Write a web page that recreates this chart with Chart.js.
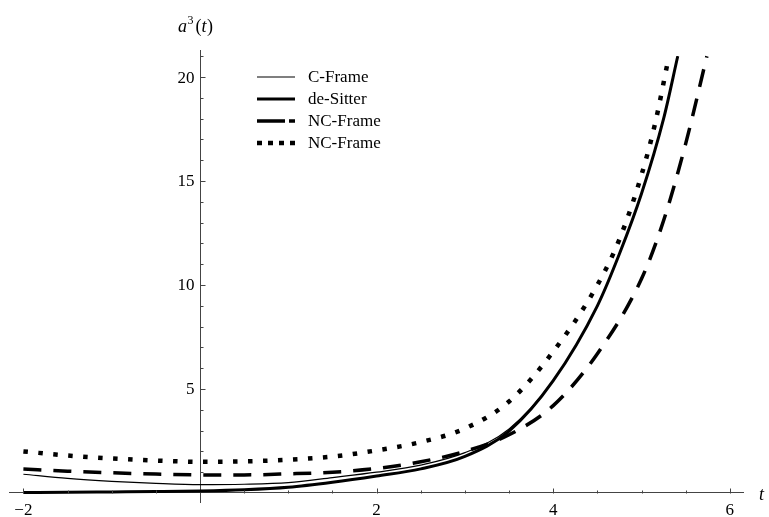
<!DOCTYPE html>
<html>
<head>
<meta charset="utf-8">
<script src="https://cdn.jsdelivr.net/npm/chart.js@4.4.1/dist/chart.umd.min.js"></script>
<style>
  html, body { margin: 0; padding: 0; background: #fff; }
  #wrap { width: 769px; height: 517px; }
</style>
</head>
<body>
<div id="wrap"><canvas id="chart" width="769" height="517"></canvas></div>
<script>
// a^3(t), one t list and one value list per curve
const cFrameT   = [-2, -1.5, -1, -0.5, 0, 0.5, 1, 1.5, 2, 2.5, 3, 3.5, 4, 4.5, 4.75, 5, 5.25, 5.41];
const cFrameA3  = [0.9, 0.7, 0.56, 0.46, 0.4, 0.42, 0.5, 0.74, 1.0, 1.34, 1.94, 3.08, 5.4, 9.0, 11.5, 14.4, 18.0, 21];

const deSitterT  = [-2, -1.5, -1, -0.5, 0, 0.5, 1, 1.5, 2, 2.5, 3, 3.5, 4, 4.5, 4.75, 5, 5.25, 5.41];
const deSitterA3 = [0.02, 0.03, 0.05, 0.07, 0.1, 0.16, 0.28, 0.52, 0.82, 1.16, 1.76, 2.98, 5.4, 9.0, 11.5, 14.4, 18.0, 21];

const ncDashT  = [-2, -1.5, -1, -0.5, 0, 0.5, 1, 1.5, 2, 2.5, 3, 3.5, 4, 4.5, 5, 5.25, 5.5, 5.74];
const ncDashA3 = [1.15, 1.05, 0.97, 0.91, 0.87, 0.87, 0.92, 1.0, 1.18, 1.5, 2.0, 2.8, 4.2, 6.7, 10.3, 13.1, 16.8, 21];

const ncDotT  = [-2, -1.5, -1, -0.5, 0, 0.5, 1, 1.5, 2, 2.5, 3, 3.5, 4, 4.5, 4.75, 5, 5.15, 5.31];
const ncDotA3 = [2.0, 1.8, 1.66, 1.56, 1.5, 1.52, 1.6, 1.75, 2.05, 2.45, 3.1, 4.4, 6.8, 10.0, 12.2, 15.3, 17.7, 21];

const seriesNames = ['C-Frame', 'de-Sitter', 'NC-Frame', 'NC-Frame'];

// labelled ticks
const xTickValues = [-2, 2, 4, 6];
const yTickValues = [5, 10, 15, 20];

const toPoints = (ts, vs) => ts.map((t, i) => ({ x: t, y: vs[i] }));
const SERIF = "'Liberation Serif', 'Times New Roman', serif";

Chart.defaults.font.family = SERIF;
Chart.defaults.font.size = 17;
Chart.defaults.color = '#000';

// minor tick marks drawn inside the axes, Mathematica style
const axisTicks = {
  id: 'axisTicks',
  afterDraw(chart) {
    const { ctx, scales: { x, y } } = chart;
    const x0 = Math.round(x.getPixelForValue(0)) + 0.5;
    const y0 = Math.round(y.getPixelForValue(0)) + 0.5;
    ctx.save();
    ctx.strokeStyle = '#444';
    ctx.lineWidth = 1;
    ctx.beginPath();
    for (let v = -2; v <= 6; v += 0.5) {
      if (v === 0) continue;
      const px = Math.round(x.getPixelForValue(v)) + 0.5;
      const len = xTickValues.includes(v) ? 5 : 3;
      ctx.moveTo(px, y0);
      ctx.lineTo(px, y0 - len);
    }
    for (let v = 1; v <= 21; v++) {
      const py = Math.round(y.getPixelForValue(v)) + 0.5;
      const len = yTickValues.includes(v) ? 5 : 3;
      ctx.moveTo(x0, py);
      ctx.lineTo(x0 + len, py);
    }
    ctx.stroke();

    // axis labels: t and a^3(t)
    ctx.fillStyle = '#000';
    ctx.textBaseline = 'alphabetic';
    ctx.textAlign = 'left';
    ctx.font = 'italic 18px ' + SERIF;
    ctx.fillText('t', 759, y0 + 6);

    let cx = 178;
    const base = 32;
    ctx.font = 'italic 18px ' + SERIF;
    ctx.fillText('a', cx, base);
    cx += ctx.measureText('a').width + 0.5;
    ctx.font = '12px ' + SERIF;
    ctx.fillText('3', cx, base - 8);
    cx += ctx.measureText('3').width + 2;
    ctx.font = '18px ' + SERIF;
    ctx.fillText('(', cx, base);
    cx += ctx.measureText('(').width;
    ctx.font = 'italic 18px ' + SERIF;
    ctx.fillText('t', cx, base);
    cx += ctx.measureText('t').width + 0.5;
    ctx.font = '18px ' + SERIF;
    ctx.fillText(')', cx, base);

    // y tick labels, set off a few pixels left of the axis
    ctx.font = '17px ' + SERIF;
    ctx.textAlign = 'right';
    ctx.textBaseline = 'middle';
    yTickValues.forEach(v => {
      ctx.fillText(String(v), x0 - 6, y.getPixelForValue(v) + 1);
    });
    ctx.restore();
  }
};

// legend placed inside the plot, top left
const insetLegend = {
  id: 'insetLegend',
  afterDraw(chart) {
    const { ctx } = chart;
    const rows = [77, 99, 121, 143];
    ctx.save();
    chart.data.datasets.forEach((ds, i) => {
      const yy = rows[i];
      ctx.strokeStyle = '#000';
      ctx.lineWidth = ds.borderWidth;
      ctx.lineCap = 'butt';
      ctx.setLineDash(ds.legendDash || []);
      ctx.beginPath();
      ctx.moveTo(257, yy);
      ctx.lineTo(295, yy);
      ctx.stroke();
      ctx.setLineDash([]);
      ctx.fillStyle = '#000';
      ctx.font = '17px ' + SERIF;
      ctx.textBaseline = 'middle';
      ctx.fillText(ds.label, 308, yy + 1);
    });
    ctx.restore();
  }
};

new Chart(document.getElementById('chart'), {
  type: 'line',
  data: {
    datasets: [
      {
        label: seriesNames[0],
        data: toPoints(cFrameT, cFrameA3),
        borderColor: '#000',
        borderWidth: 1.2,
        pointRadius: 0,
        cubicInterpolationMode: 'monotone'
      },
      {
        label: seriesNames[1],
        data: toPoints(deSitterT, deSitterA3),
        borderColor: '#000',
        borderWidth: 3,
        pointRadius: 0,
        cubicInterpolationMode: 'monotone'
      },
      {
        label: seriesNames[2],
        data: toPoints(ncDashT, ncDashA3),
        borderColor: '#000',
        borderWidth: 3.5,
        borderDash: [18, 12],
        legendDash: [28, 4],
        pointRadius: 0,
        cubicInterpolationMode: 'monotone'
      },
      {
        label: seriesNames[3],
        data: toPoints(ncDotT, ncDotA3),
        borderColor: '#000',
        borderWidth: 4.5,
        borderDash: [4.5, 10.5],
        legendDash: [5, 6],
        pointRadius: 0,
        cubicInterpolationMode: 'monotone'
      }
    ]
  },
  options: {
    responsive: false,
    devicePixelRatio: 1,
    animation: false,
    layout: { padding: { left: 9, right: 26, top: 50, bottom: 15 } },
    plugins: {
      legend: { display: false },
      tooltip: { enabled: false }
    },
    scales: {
      x: {
        type: 'linear',
        position: { y: 0 },
        min: -2.163,
        max: 6.149,
        grid: { display: false, drawTicks: false },
        border: { display: true, color: '#444', width: 1 },
        afterBuildTicks: s => { s.ticks = xTickValues.map(v => ({ value: v })); },
        afterFit: s => { s.height = 0; },
        ticks: {
          padding: 7,
          maxRotation: 0,
          callback: v => (v < 0 ? '\u2212' + Math.abs(v) : String(v))
        }
      },
      y: {
        type: 'linear',
        position: { x: 0 },
        min: -0.433,
        max: 21.3,
        grid: { display: false, drawTicks: false },
        border: { display: true, color: '#444', width: 1 },
        afterBuildTicks: s => { s.ticks = yTickValues.map(v => ({ value: v })); },
        afterFit: s => { s.width = 0; },
        // labels are drawn by the axisTicks plugin with a gap from the axis
        ticks: { display: false }
      }
    }
  },
  plugins: [axisTicks, insetLegend]
});
</script>
</body>
</html>
